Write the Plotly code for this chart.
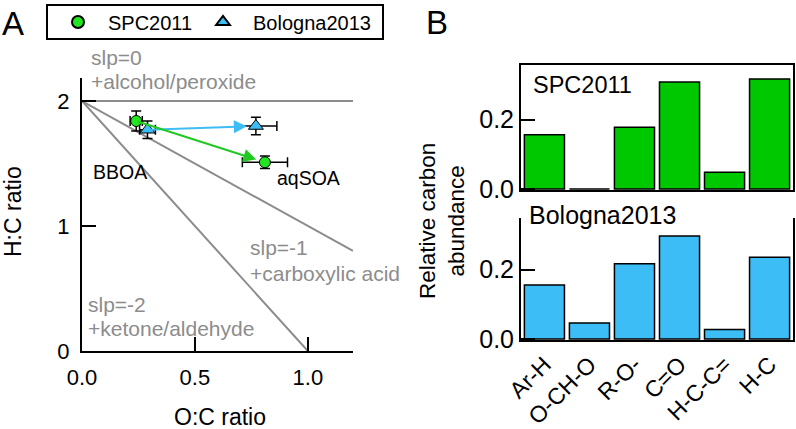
import plotly.graph_objects as go

# ---------------- data ----------------
# Panel A: van Krevelen points (BBOA -> aqSOA)
spc_oc = [0.24, 0.81]
spc_hc = [1.84, 1.51]
spc_oc_err = [0.027, 0.10]
spc_hc_err = [0.08, 0.05]

bol_oc = [0.29, 0.77]
bol_hc = [1.77, 1.80]
bol_oc_err = [0.035, 0.093]
bol_hc_err = [0.07, 0.07]

# reference lines (slope 0, -1, -2 from H:C = 2)
ref0_x = [0.0, 1.2]
ref0_y = [2.0, 2.0]
ref1_x = [0.0, 1.2]
ref1_y = [2.0, 0.8]
ref2_x = [0.0, 1.0]
ref2_y = [2.0, 0.0]

# Panel B: relative carbon abundance
groups = ["Ar-H", "O-CH-O", "R-O-", "C=O", "H-C-C=", "H-C"]
spc_abund = [0.156, 0.0, 0.178, 0.308, 0.048, 0.317]
bol_abund = [0.156, 0.046, 0.217, 0.297, 0.027, 0.236]

GREEN_M = "#22e622"
GREEN_B = "#00c800"
BLUE = "#3dbdf5"
GRAY = "#8c8c8c"
FONT = "Liberation Sans, Arial, Helvetica, sans-serif"

W, H = 796, 429
def px(xp):
    return xp / W
def py(yp):
    return 1 - yp / H

fig = go.Figure()

for rx, ry in [(ref0_x, ref0_y), (ref1_x, ref1_y), (ref2_x, ref2_y)]:
    fig.add_trace(go.Scatter(x=rx, y=ry, mode="lines", line=dict(color=GRAY, width=2),
                             showlegend=False, hoverinfo="skip", xaxis="x", yaxis="y"))

err_style = dict(color="black", thickness=1.5, width=5)
fig.add_trace(go.Scatter(
    x=spc_oc, y=spc_hc, mode="markers", name="SPC2011", legend="legend",
    marker=dict(symbol="circle", size=11, color=GREEN_M, line=dict(color="black", width=1)),
    error_x=dict(type="data", array=spc_oc_err, **err_style),
    error_y=dict(type="data", array=spc_hc_err, **err_style),
    xaxis="x", yaxis="y", cliponaxis=False))
fig.add_trace(go.Scatter(
    x=bol_oc, y=bol_hc, mode="markers", name="Bologna2013", legend="legend2",
    marker=dict(symbol="triangle-up", size=13, color=BLUE, line=dict(color="black", width=1)),
    error_x=dict(type="data", array=bol_oc_err, **err_style),
    error_y=dict(type="data", array=bol_hc_err, **err_style),
    xaxis="x", yaxis="y", cliponaxis=False))

bar_pos = list(range(len(groups)))
fig.add_trace(go.Bar(x=bar_pos, y=spc_abund, width=0.89,
                     marker=dict(color=GREEN_B, line=dict(color="black", width=1.5)),
                     showlegend=False, xaxis="x2", yaxis="y2"))
fig.add_trace(go.Bar(x=bar_pos, y=bol_abund, width=0.89,
                     marker=dict(color=BLUE, line=dict(color="black", width=1.5)),
                     showlegend=False, xaxis="x3", yaxis="y3"))

fontA = dict(family=FONT, size=22, color="black")
fontB = dict(family=FONT, size=25, color="black")
common = dict(showgrid=False, zeroline=False, showline=True, linecolor="black", linewidth=2,
              ticks="inside", tickcolor="black", tickwidth=2)

annotations = []
for (x0, y0, x1, y1, c) in [(bol_oc[0], bol_hc[0], bol_oc[1], bol_hc[1], BLUE),
                            (spc_oc[0], spc_hc[0], spc_oc[1], spc_hc[1], "#22c822")]:
    annotations.append(dict(x=x1, y=y1, ax=x0, ay=y0, xref="x", yref="y", axref="x", ayref="y",
                            text="", showarrow=True, arrowhead=2, arrowsize=1.3, arrowwidth=2,
                            arrowcolor=c, standoff=9))

def txt(xp, yp, t, color="black", size=21, xanchor="left", **kw):
    annotations.append(dict(x=px(xp), y=py(yp), xref="paper", yref="paper", text=t,
                            showarrow=False, xanchor=xanchor, yanchor="middle",
                            font=dict(family=FONT, size=size, color=color), **kw))

txt(89, 58, "slp=0", GRAY)
txt(89, 82, "+alcohol/peroxide", GRAY)
txt(248, 248, "slp=-1", GRAY)
txt(248, 273, "+carboxylic acid", GRAY)
txt(86, 304, "slp=-2", GRAY)
txt(86, 328, "+ketone/aldehyde", GRAY)
txt(120, 172, "BBOA", size=19.5, xanchor="center")
txt(308, 178, "aqSOA", size=19.5, xanchor="center")

txt(220, 417, "O:C ratio", size=23, xanchor="center")
txt(13, 212, "H:C ratio", size=23, xanchor="center", textangle=-90)
txt(442, 221, "Relative carbon<br>abundance", size=22.5, xanchor="center", textangle=-90)
txt(13, 24, "A", size=33, xanchor="center")
txt(437, 22, "B", size=33, xanchor="center")
txt(531, 85, "SPC2011", size=23.5)
txt(527, 215, "Bologna2013", size=25)

shapes = [dict(type="rect", xref="paper", yref="paper", x0=px(47), x1=px(383),
               y0=py(39), y1=py(5), line=dict(color="black", width=2), fillcolor="rgba(0,0,0,0)")]

leg_common = dict(orientation="h", xanchor="left", yanchor="middle", y=py(22),
                  borderwidth=0, bgcolor="rgba(0,0,0,0)", font=dict(family=FONT, size=20),
                  itemwidth=50, itemsizing="constant")

fig.update_layout(
    width=W, height=H, margin=dict(l=0, r=0, t=0, b=0, autoexpand=False),
    paper_bgcolor="white", plot_bgcolor="white",
    font=dict(family=FONT, size=20, color="black"),
    showlegend=True,
    legend=dict(x=px(48), **leg_common),
    legend2=dict(x=px(193), **leg_common),
    annotations=annotations,
    shapes=shapes,
    barmode="overlay",
    xaxis=dict(domain=[px(82), px(353)], range=[0, 1.2], tickvals=[0, 0.5, 1.0],
               ticktext=["0.0", "0.5", "1.0"], ticklen=14, ticklabelstandoff=6, anchor="y",
               tickfont=fontA, **common),
    yaxis=dict(domain=[py(351), py(78)], range=[0, 2.184], tickvals=[0, 1, 2], ticklen=14,
               ticklabelstandoff=6, anchor="x", tickfont=fontA, **common),
    xaxis2=dict(domain=[px(521), px(793)], range=[-0.52, 5.52], showticklabels=False, ticks="",
                anchor="y2", mirror=True, showgrid=False, zeroline=False, showline=True,
                linecolor="black", linewidth=2),
    yaxis2=dict(domain=[py(190), py(65)], range=[-0.003, 0.357], tickvals=[0, 0.2],
                ticktext=["0.0", "0.2"], ticklen=14, ticklabelstandoff=0, anchor="x2", mirror=True,
                tickfont=fontB, **common),
    xaxis4=dict(overlaying="x2", side="top", anchor="y2", range=[-0.52, 5.52],
                tickvals=[0.5, 2.5, 3.5, 4.5], ticks="inside", ticklen=11, tickwidth=2,
                tickcolor="black", showticklabels=False, showgrid=False, zeroline=False, showline=False),
    xaxis3=dict(domain=[px(521), px(793)], range=[-0.52, 5.52], tickvals=bar_pos, ticktext=groups,
                tickangle=-45, ticks="", anchor="y3", showgrid=False, zeroline=False, showline=True,
                linecolor="black", linewidth=2, tickfont=dict(family=FONT, size=23, color="black")),
    yaxis3=dict(domain=[py(340), py(218)], range=[-0.003, 0.349], tickvals=[0, 0.2],
                ticktext=["0.0", "0.2"], ticklen=14, ticklabelstandoff=0, anchor="x3", mirror=True,
                tickfont=fontB, **common),
)

fig.write_html("out.html", config={"displayModeBar": False},
               post_script="document.body.style.margin='0px';")
